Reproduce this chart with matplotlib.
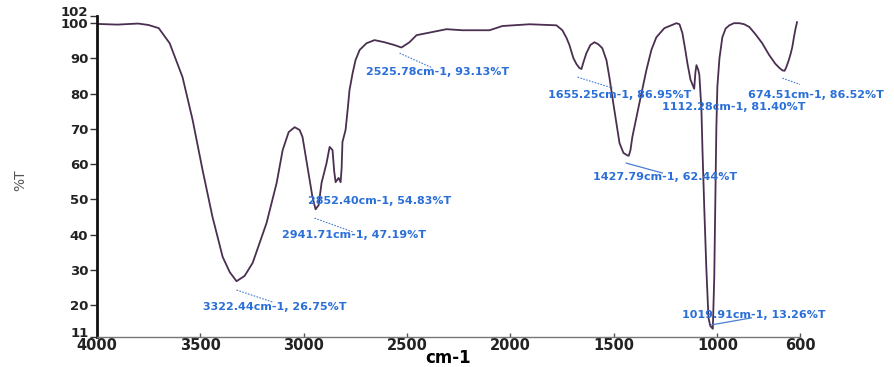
import matplotlib
matplotlib.use("Agg")
import matplotlib.pyplot as plt
import matplotlib.transforms as mtransforms

# FTIR spectrum
wavenumber = [4000, 3900, 3800, 3750, 3700, 3647, 3585, 3536, 3488, 3440, 3391, 3357,
              3324, 3285, 3246, 3179, 3130, 3101, 3072, 3043, 3019, 3005, 2981, 2957,
              2942, 2927, 2913, 2889, 2874, 2860, 2852, 2845, 2831, 2821, 2816, 2812,
              2797, 2787, 2778, 2763, 2749, 2729, 2696, 2657, 2609, 2561, 2527, 2488,
              2454, 2377, 2309, 2232, 2101, 2039, 1908, 1778, 1749, 1729, 1715, 1696,
              1681, 1667, 1657, 1647, 1633, 1614, 1594, 1575, 1556, 1536, 1522, 1498,
              1473, 1454, 1435, 1428, 1420, 1411, 1377, 1343, 1319, 1295, 1256, 1198,
              1183, 1169, 1155, 1145, 1130, 1116, 1112, 1106, 1101, 1092, 1087, 1077,
              1072, 1063, 1053, 1043, 1034, 1022, 1015, 1010, 1005, 1000, 990, 976,
              960, 942, 920, 894, 870, 845, 815, 783, 750, 720, 700, 685, 675, 667,
              655, 645, 638, 630, 622, 615]
transmittance = [99.8, 99.6, 99.9, 99.5, 98.6, 94.3, 84.7, 72.5, 58.3, 45.0, 33.7, 29.4,
                 26.8, 28.3, 32.0, 43.3, 54.7, 64.0, 69.1, 70.5, 69.7, 67.7, 59.2, 50.7,
                 47.2, 48.4, 54.7, 60.3, 64.9, 64.0, 58.0, 54.9, 56.1, 54.9, 58.9, 66.3,
                 69.7, 75.4, 81.0, 85.8, 89.5, 92.4, 94.3, 95.2, 94.6, 93.8, 93.1, 94.6,
                 96.6, 97.5, 98.3, 98.0, 98.0, 99.2, 99.7, 99.4, 98.0, 95.8, 93.8, 90.1,
                 88.4, 87.3, 87.0, 89.0, 91.5, 93.8, 94.6, 94.0, 92.9, 89.5, 84.7, 75.4,
                 66.0, 63.2, 62.5, 62.4, 64.0, 67.7, 77.3, 86.7, 92.4, 96.0, 98.6, 100.0,
                 99.7, 97.2, 92.4, 88.7, 84.0, 82.0, 81.4, 86.1, 88.1, 86.7, 85.3, 75.4,
                 64.0, 47.0, 30.0, 16.4, 14.1, 13.3, 28.0, 50.0, 70.0, 82.0, 90.0, 96.0,
                 98.5, 99.4, 100.0, 100.0, 99.7, 98.9, 96.8, 94.3, 91.0, 88.5, 87.3, 86.6,
                 86.5, 87.5, 89.5, 91.5, 93.2, 96.0, 98.5, 100.3]

# peak labels: text, centre of text (wavenumber, %T), leader line ends
peak_labels = ["2525.78cm-1, 93.13%T", "1655.25cm-1, 86.95%T", "1112.28cm-1, 81.40%T",
               "674.51cm-1, 86.52%T", "1427.79cm-1, 62.44%T", "2852.40cm-1, 54.83%T",
               "2941.71cm-1, 47.19%T", "3322.44cm-1, 26.75%T", "1019.91cm-1, 13.26%T"]
label_x = [2353, 1473, 923, 526, 1251, 2633, 2754, 3140, 826]
label_y = [86.1, 79.6, 76.2, 79.6, 56.4, 49.6, 39.9, 19.5, 17.2]
line_x0 = [2536, 1676, None, 686, 1440, None, 2947, 3324, 1029]
line_y0 = [91.5, 84.7, None, 84.4, 60.3, None, 44.7, 24.3, 14.4]
line_x1 = [2377, 1507, None, 522, 1266, None, 2763, 3150, 836]
line_y1 = [87.3, 81.6, None, 81.0, 57.5, None, 40.8, 20.9, 16.4]
line_solid = [False, False, False, False, True, False, False, False, True]

fig = plt.figure(figsize=(8.95, 3.67), dpi=100)
ax = fig.add_axes([0.108, 0.082, 0.786, 0.874])

ax.plot(wavenumber, transmittance, color="#4a2f50", lw=1.3)

for i, lab in enumerate(peak_labels):
    if line_x0[i] is not None:
        ax.plot([line_x0[i], line_x1[i]], [line_y0[i], line_y1[i]],
                color="#4a7fd0", lw=0.9 if line_solid[i] else 0.8,
                ls="-" if line_solid[i] else (0, (1.5, 1.2)))
    ax.text(label_x[i], label_y[i], lab, color="#2a6fd8", fontsize=8,
            fontweight="bold", ha="center", va="center")

ax.set_xlim(4000, 600)
ax.set_ylim(11, 102)
ax.set_xticks([4000, 3500, 3000, 2500, 2000, 1500, 1000, 600])
ax.set_yticks([102, 100, 90, 80, 70, 60, 50, 40, 30, 20, 11])
ax.tick_params(axis="x", direction="in", length=3, width=1, color="#555",
               labelsize=10.5, pad=1, labelcolor="#222")
ax.tick_params(axis="y", direction="out", length=5, width=1, color="#333",
               labelsize=9.5, pad=1, labelcolor="#222")
for t in ax.get_xticklabels() + ax.get_yticklabels():
    t.set_fontweight("bold")

# the 102 and 11 labels sit a little above their ticks, as in the picture
shift_up = mtransforms.ScaledTranslation(0, 5 / 100, fig.dpi_scale_trans)
ylabs = ax.get_yticklabels()
ylabs[0].set_transform(ylabs[0].get_transform() + shift_up)
ylabs[-1].set_transform(ylabs[-1].get_transform() + shift_up)

ax.spines["top"].set_visible(False)
ax.spines["right"].set_visible(False)
ax.spines["left"].set_linewidth(2)
ax.spines["left"].set_color("#111")
ax.spines["bottom"].set_linewidth(1)
ax.spines["bottom"].set_color("#777")

ax.set_xlabel("cm-1", fontsize=12, fontweight="bold", labelpad=-3)
fig.text(20 / 895, 1 - 180 / 367, "%T", fontsize=10, color="#555",
         rotation=90, ha="center", va="center")

fig.savefig("out.png", dpi=100)
